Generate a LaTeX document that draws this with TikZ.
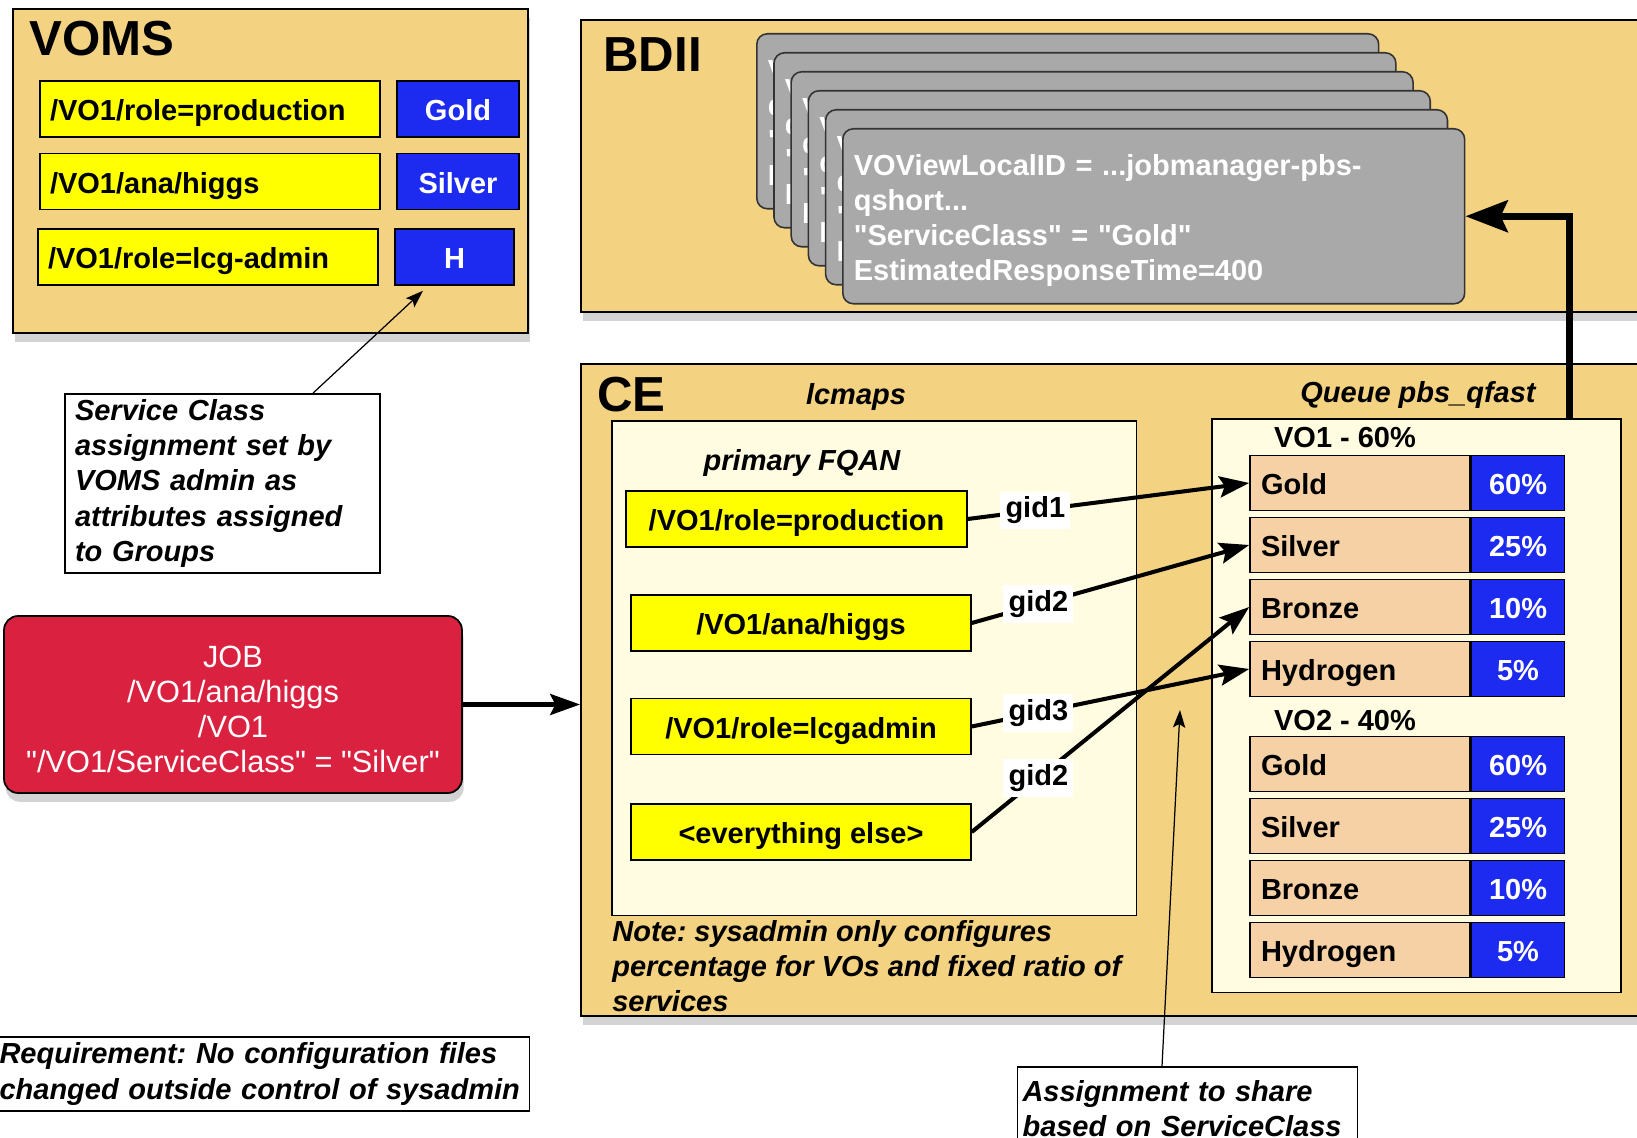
\documentclass[tikz,border=0pt]{standalone}
\usepackage{fontspec}
\setmainfont{Liberation Sans}[Ligatures=TeXOff]
\frenchspacing
\usetikzlibrary{arrows.meta,shadows,positioning}
\definecolor{panel}{HTML}{F3D282}
\definecolor{cream}{HTML}{FFFCE1}
\definecolor{fqan}{HTML}{FFFF00}
\definecolor{klass}{HTML}{1C2BEF}
\definecolor{sharetan}{HTML}{F6D1A5}
\definecolor{card}{HTML}{A9A9A9}
\definecolor{jobred}{HTML}{DA213F}
\newcommand{\bodyfont}{\fontsize{16.5}{20}\selectfont\bfseries}
\tikzset{
    panelbox/.style={draw, line width=1.1pt, fill=panel, anchor=north west, inner sep=0pt,
        drop shadow={shadow xshift=1pt, shadow yshift=-5pt, opacity=0.35}},
    innerbox/.style={draw, line width=0.9pt, fill=cream, anchor=north west, inner sep=0pt},
    fqanbox/.style={draw, line width=0.9pt, fill=fqan, minimum height=1.12cm, inner xsep=0.2cm,
        text height=13.5pt, text depth=0pt, font=\bodyfont},
    classbox/.style={draw, line width=0.9pt, fill=klass, text=white, minimum height=1.12cm,
        text height=13.5pt, text depth=0pt, font=\bodyfont},
    sharebox/.style={draw, line width=0.9pt, fill=sharetan, minimum height=1.1cm, text width=3.96cm,
        inner xsep=0.22cm, align=left, text height=13.5pt, text depth=0pt, font=\bodyfont},
    pctbox/.style={classbox, minimum height=1.1cm, minimum width=1.86cm},
    lbl/.style={inner sep=0pt, font=\bodyfont, text height=11.8pt, text depth=0pt},
    paneltitle/.style={inner sep=0pt, anchor=west, font=\fontsize{28}{32}\selectfont\bfseries},
    notebox/.style={draw, line width=0.8pt, fill=white, align=left, font=\bodyfont\itshape},
    gidlbl/.style={fill=white, inner sep=3pt, font=\bodyfont, pos=0.24},
    cardbox/.style={draw=black!80, line width=0.9pt, fill=card, rounded corners=6pt, anchor=north west,
        minimum width=12.44cm, minimum height=3.5cm},
    cardtext/.style={inner sep=0pt, text width=12cm, align=left, text=white, font=\bodyfont},
    jobbox/.style={draw, line width=1pt, fill=jobred, rounded corners=8pt,
        drop shadow={shadow xshift=1pt, shadow yshift=-5pt, opacity=0.35}},
    jobtext/.style={inner sep=0pt, text=white, align=center, font=\fontsize{17.5}{20}\selectfont},
    flow/.style={line width=2.3pt, -{Stealth[length=17pt,width=12pt,inset=3pt]}},
    pointer/.style={line width=0.7pt, -{Stealth[length=10pt,width=7pt,inset=2pt]}}
}

\begin{document}
\begin{tikzpicture}[x=0.02cm, y=-0.02cm]
    \useasboundingbox (0,0) rectangle (1637,1138);
    \node[panelbox, minimum width=10.31cm, minimum height=6.48cm] (voms) at (12,8) {};
    \node[panelbox, minimum width=22cm, minimum height=5.84cm] (bdii) at (580,19) {};
    \node[panelbox, minimum width=22cm, minimum height=13.04cm] (ce) at (580,363) {};
    \node[paneltitle] at (29,39) {VOMS};
    \node[paneltitle] at (603,55) {BDII};
    \node[paneltitle] at (597,395) {CE};

    \node[fqanbox, text width=6.4cm, align=left] (va) at (210,109) {/VO1/role=production};
    \node[fqanbox, text width=6.4cm, align=left] (vb) at (210,181.5) {/VO1/ana/higgs};
    \node[fqanbox, text width=6.4cm, align=left] (vc) at (208,257) {/VO1/role=lcg-admin};
    \node[classbox, minimum width=2.44cm] (vga) at (458,109) {Gold};
    \node[classbox, minimum width=2.44cm] (vgb) at (458,181.5) {Silver};
    \node[classbox, minimum width=2.38cm] (vgc) at (454.5,257) {H};

    \foreach \k in {0,...,5}{
        \node[cardbox] (card\k) at (756+17.2*\k,33+19*\k) {};
        \node[cardtext] at ([yshift=-0.08cm]card\k.center)
            {VOViewLocalID = ...jobmanager-pbs-\\qshort...\\"ServiceClass" = "Gold"\\EstimatedResponseTime=400};
    }

    \node[innerbox, minimum width=10.5cm, minimum height=9.9cm] (lcmaps) at (611,420) {};
    \node[innerbox, minimum width=8.18cm, minimum height=11.48cm] (queue) at (1211,418) {};
    \node[lbl, font=\bodyfont\itshape] at (856,394) {lcmaps};
    \node[lbl, font=\bodyfont\itshape] at (802,460) {primary FQAN};
    \node[lbl, font=\bodyfont\itshape] at (1418,392) {Queue pbs\_qfast};

    \node[fqanbox, minimum width=6.82cm] (f1) at (796.5,519) {/VO1/role=production};
    \node[fqanbox, minimum width=6.8cm] (f2) at (801,623) {/VO1/ana/higgs};
    \node[fqanbox, minimum width=6.8cm] (f3) at (801,726.5) {/VO1/role=lcgadmin};
    \node[fqanbox, minimum width=6.8cm] (f4) at (801,832) {<everything else>};

    \node[lbl] at (1345,437) {VO1 - 60\%};
    \node[lbl] at (1345,720) {VO2 - 40\%};
    \foreach \cl/\pc [count=\i] in {Gold/60,Silver/25,Bronze/10,Hydrogen/5}{
        \node[sharebox] (vo1-\i) at (1360,421+62*\i) {\cl};
        \node[pctbox, right=0pt of vo1-\i] {\pc\%};
        \node[sharebox] (vo2-\i) at (1360,702+62*\i) {\cl};
        \node[pctbox, right=0pt of vo2-\i] {\pc\%};
    }

    \draw[flow] (f1.east) -- node[gidlbl]{gid1} (vo1-1.west);
    \draw[flow] (f2.east) -- node[gidlbl]{gid2} (vo1-2.west);
    \draw[flow] (f3.east) -- node[gidlbl]{gid3} (vo1-4.west);
    \draw[flow] (f4.east) -- node[gidlbl]{gid2} (vo1-3.west);

    \node[anchor=west, align=left, inner sep=0pt, font=\bodyfont\itshape] (sysnote) at (612,966)
        {Note: sysadmin only configures\\percentage for VOs and fixed ratio of\\services};

    \coordinate (qtop) at (1569,418);
    \draw[line width=4pt, -{Stealth[length=24pt,width=18pt,inset=4pt]}] (qtop) |- (card5.east);

    \node[jobbox, minimum width=9.16cm, minimum height=3.54cm] (job) at (233,704.5) {};
    \node[jobtext] at ([yshift=-0.1cm]job.center) {JOB\\/VO1/ana/higgs\\/VO1\\"/VO1/ServiceClass" = "Silver"};
    \draw[flow] (job.east) -- (job.east -| ce.west);

    \node[notebox, text width=5.9cm, inner xsep=0.2cm, minimum height=3.54cm] (scnote) at (222.5,483.5)
        {Service Class\\assignment set by\\VOMS admin as\\attributes assigned\\to Groups};
    \draw[pointer] ([xshift=1.81cm]scnote.north) -- ([xshift=-0.63cm,yshift=-0.1cm]vgc.south);

    \node[notebox, text width=6.6cm, inner xsep=0.1cm, minimum height=1.66cm] (assign) at (1187.5,1108.5)
        {Assignment to share\\based on ServiceClass};
    \coordinate (shareto) at (1180,710);
    \draw[pointer] ([xshift=-0.51cm]assign.north) -- (shareto);

    \node[notebox, text width=10.5cm, inner xsep=0.1cm, minimum height=1.4cm] (req) at (262,1074)
        {Requirement: No configuration files\\changed outside control of sysadmin};
\end{tikzpicture}
\end{document}
